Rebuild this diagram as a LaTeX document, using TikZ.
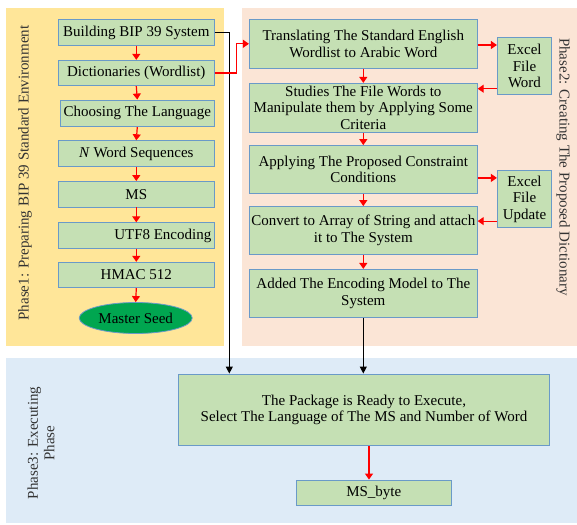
\documentclass[tikz,border=0pt]{standalone}
\usepackage{fontspec}
\setmainfont{Liberation Serif}
\usetikzlibrary{arrows.meta,shapes.geometric}
\definecolor{boxg}{HTML}{C5E0B4}
\definecolor{bord}{HTML}{6A9AC8}
\definecolor{yel}{HTML}{FFE699}
\definecolor{peach}{HTML}{FBE5D6}
\definecolor{bluep}{HTML}{DEEBF7}
\definecolor{seed}{HTML}{00A650}
\definecolor{redl}{HTML}{FF0000}
\tikzset{
  box/.style={draw=bord, line width=0.8pt, fill=boxg, inner sep=1pt, align=center, font=\fontsize{15}{16.7}\selectfont},
  phbox/.style={box, minimum width=156pt, minimum height=25.5pt},
  p2box/.style={box, minimum width=228pt, minimum height=48pt},
  xbox/.style={box, minimum width=54.4pt, minimum height=57pt},
  redarr/.style={draw=redl, line width=1.2pt, -{Triangle[width=8pt,length=6pt]}},
  blkarr/.style={draw=black, line width=1pt, -{Triangle[width=7pt,length=7pt]}},
  lab/.style={font=\fontsize{15}{16.7}\selectfont, align=center, text=black!80}
}
\begin{document}
\begin{tikzpicture}[x=1pt,y=-1pt]
\useasboundingbox (0,0) rectangle (577,524);
% panels
\fill[yel] (6,8.3) rectangle (224,345.5);
\fill[peach] (241.7,8.3) rectangle (577,345.5);
\fill[bluep] (5.5,358.3) rectangle (577,523);
% phase labels
\node[lab, rotate=90] (L1) at (25,173) {Phase1: Preparing BIP 39 Standard Environment};
\node[lab, rotate=-90] (L2) at (563.3,167) {Phase2: Creating The Proposed Dictionary};
\node[lab, rotate=90] (L3) at (41,443) {Phase3: Executing\\Phase};
% phase 1
\node[phbox] (B1) at (136.3,32.5) {Building BIP 39 System};
\node[phbox] (B2) at (136.3,73) {Dictionaries (Wordlist)};
\node[phbox, minimum width=154pt, minimum height=26.7pt] (B3) at (137.3,113.3) {Choosing The Language};
\node[phbox, minimum height=26pt] (B4) at (136.3,153.7) {\textit{N} Word Sequences};
\node[phbox] (B5) at (136.3,194.2) {MS};
\node[phbox] (B6) at (136.3,235.5) {\hspace*{53pt}UTF8 Encoding};
\node[phbox] (B7) at (136.3,275) {HMAC 512};
\node[ellipse, draw=bord, line width=0.8pt, fill=seed, minimum width=113pt, minimum height=31pt, inner sep=0pt, font=\fontsize{15}{16.7}\selectfont] (MSD) at (135.7,318) {Master Seed};
\foreach \a/\b in {B1/B2,B2/B3,B3/B4,B4/B5,B5/B6,B6/B7,B7/MSD}
  \draw[redarr] (\a.south) -- (\b.north);
% phase 2
\node[p2box, minimum height=49pt] (T) at (363.3,43.8) {Translating The Standard English\\Wordlist to Arabic Word};
\node[p2box, minimum height=49pt] (S) at (363.3,107.8) {Studies The File Words to\\Manipulate them by Applying Some\\Criteria};
\node[p2box] (A) at (363.3,169.5) {Applying The Proposed Constraint\\Conditions};
\node[p2box] (C) at (363.3,230.5) {Convert to Array of String and attach\\it to The System};
\node[p2box] (D) at (363.3,293.3) {Added The Encoding Model to The\\System};
\node[xbox, minimum height=56.6pt] (EW) at (524.5,66) {Excel\\File\\Word};
\node[xbox] (EU) at (524.5,199.2) {Excel\\File\\Update};
\foreach \a/\b in {T/S,S/A,A/C,C/D}
  \draw[redarr] (\a.south) -- (\b.north);
\coordinate (tw) at ([yshift=-1.2pt]T.east);
\draw[redarr] (tw) -- (tw -| EW.west);
\coordinate (ew) at ([yshift=6pt]EW.south west);
\draw[redarr] (ew) -- (ew -| S.east);
\coordinate (ae) at ([yshift=-7.6pt]EU.north west);
\draw[redarr] (ae -| A.east) -- (ae);
\coordinate (eu) at ([yshift=7pt]EU.south west);
\draw[redarr] (eu) -- (eu -| C.east);
% phase 3
\node[box, minimum width=371pt, minimum height=71.7pt] (P) at (364,409.8) {The Package is Ready to Execute,\\Select The Language of The MS and Number of Word};
\node[box, minimum width=155.6pt, minimum height=25.7pt] (MB) at (373.8,492.8) {MS\_byte};
\coordinate (pm) at ([xshift=-4.8pt]MB.north);
\draw[redarr] (P.south -| pm) -- (pm);
% cross-phase connectors
\coordinate (j1) at (229.3,0);
\draw[blkarr] (B1.east) -| (j1 |- P.north);
\draw[blkarr] (D.south) -- (D.south |- P.north);
\draw[redarr] (B2.east) -- ++(22,0) |- (T.west);
\end{tikzpicture}
\end{document}
